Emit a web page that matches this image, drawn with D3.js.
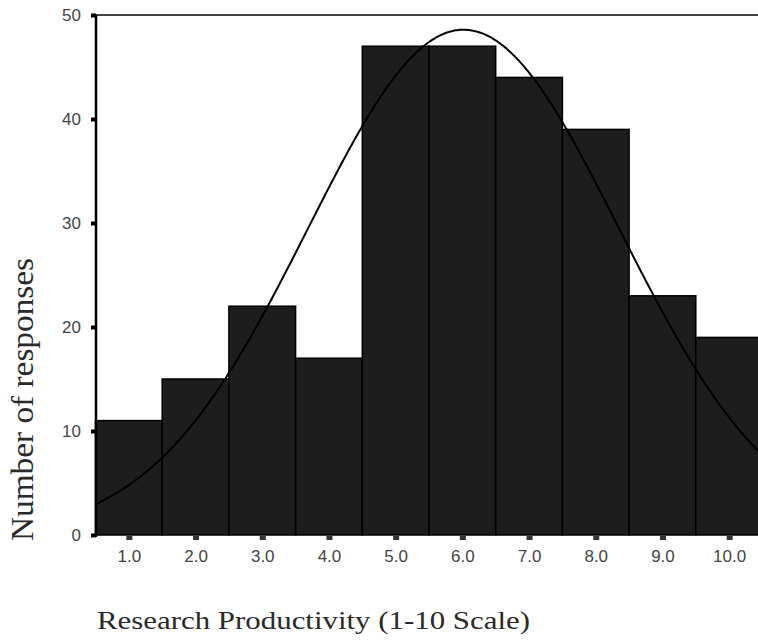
<!DOCTYPE html>
<html>
<head>
<meta charset="utf-8">
<script src="https://cdn.jsdelivr.net/npm/d3@7"></script>
<style>
  html, body { margin: 0; padding: 0; background: #fff; }
  svg { display: block; }
</style>
</head>
<body>
<svg id="chart" width="758" height="641"></svg>
<script>
// Histogram of research productivity ratings (1-10 scale)
const categories = [1, 2, 3, 4, 5, 6, 7, 8, 9, 10];
const counts = [11, 15, 22, 17, 47, 47, 44, 39, 23, 19];
const tickLabels = ["1.0", "2.0", "3.0", "4.0", "5.0", "6.0", "7.0", "8.0", "9.0", "10.0"];
const yTicks = [0, 10, 20, 30, 40, 50];

const svg = d3.select("#chart");

const x = d3.scaleLinear().domain([0.5, 10.5]).range([95.5, 762.5]);
const y = d3.scaleLinear().domain([0, 50]).range([535, 15]);

// Normal curve fitted to the histogram (mean, sd and total from the bins)
const total = d3.sum(counts);
const mean = d3.sum(categories, (c, i) => c * counts[i]) / total;
const variance = d3.sum(categories, (c, i) => counts[i] * (c - mean) ** 2) / (total - 1);
const sd = Math.sqrt(variance);
const density = v => total / (sd * Math.sqrt(2 * Math.PI)) * Math.exp(-0.5 * ((v - mean) / sd) ** 2);
const curvePts = d3.range(0.5, 10.5001, 0.02).map(v => [v, density(v)]);

// Top rule of the frame
svg.append("line")
  .attr("x1", 96).attr("x2", 758).attr("y1", y(50)).attr("y2", y(50))
  .attr("stroke", "#444").attr("stroke-width", 2.2);

// Bars
svg.append("g").selectAll("rect")
  .data(categories)
  .join("rect")
  .attr("x", d => x(d - 0.5))
  .attr("width", x(1.5) - x(0.5))
  .attr("y", (d, i) => y(counts[i]))
  .attr("height", (d, i) => y(0) - y(counts[i]))
  .attr("fill", "#1d1d1d")
  .attr("stroke", "#000")
  .attr("stroke-width", 1.5);

// Fitted curve
svg.append("path")
  .datum(curvePts)
  .attr("fill", "none")
  .attr("stroke", "#000")
  .attr("stroke-width", 2)
  .attr("d", d3.line().x(d => x(d[0])).y(d => y(d[1])).curve(d3.curveBasis));

// Y axis
const yAxis = svg.append("g").attr("transform", "translate(96,0)")
  .call(d3.axisLeft(y).tickValues(yTicks).tickSize(5).tickPadding(10).tickFormat(d3.format("d")));
yAxis.select(".domain").attr("stroke", "#000").attr("stroke-width", 2.5)
  .attr("d", `M0,${y(50)}V${y(0) + 2}`);
yAxis.selectAll(".tick line").attr("stroke", "#000").attr("stroke-width", 4);
yAxis.selectAll(".tick text")
  .attr("font-family", "'Liberation Sans', Arial, sans-serif")
  .attr("font-size", 17).attr("fill", "#444");

// X axis
const xAxis = svg.append("g").attr("transform", `translate(0,${y(0) + 1})`)
  .call(d3.axisBottom(x).tickValues(categories).tickSize(4).tickPadding(10)
    .tickFormat((d, i) => tickLabels[i]));
xAxis.select(".domain").remove();
xAxis.selectAll(".tick line").attr("stroke", "#333").attr("stroke-width", 6);
xAxis.selectAll(".tick text")
  .attr("font-family", "'Liberation Sans', Arial, sans-serif")
  .attr("font-size", 17).attr("fill", "#444");

// Axis titles
svg.append("text")
  .attr("x", 97).attr("y", 629)
  .attr("font-family", "'Liberation Serif', 'Times New Roman', serif")
  .attr("font-size", 26).attr("fill", "#2a2a2a")
  .attr("textLength", 433).attr("lengthAdjust", "spacingAndGlyphs")
  .text("Research Productivity (1-10 Scale)");

svg.append("text")
  .attr("transform", "translate(33,541) rotate(-90)")
  .attr("font-family", "'Liberation Serif', 'Times New Roman', serif")
  .attr("font-size", 32).attr("fill", "#2a2a2a")
  .attr("textLength", 283).attr("lengthAdjust", "spacingAndGlyphs")
  .text("Number of responses");
</script>
</body>
</html>
